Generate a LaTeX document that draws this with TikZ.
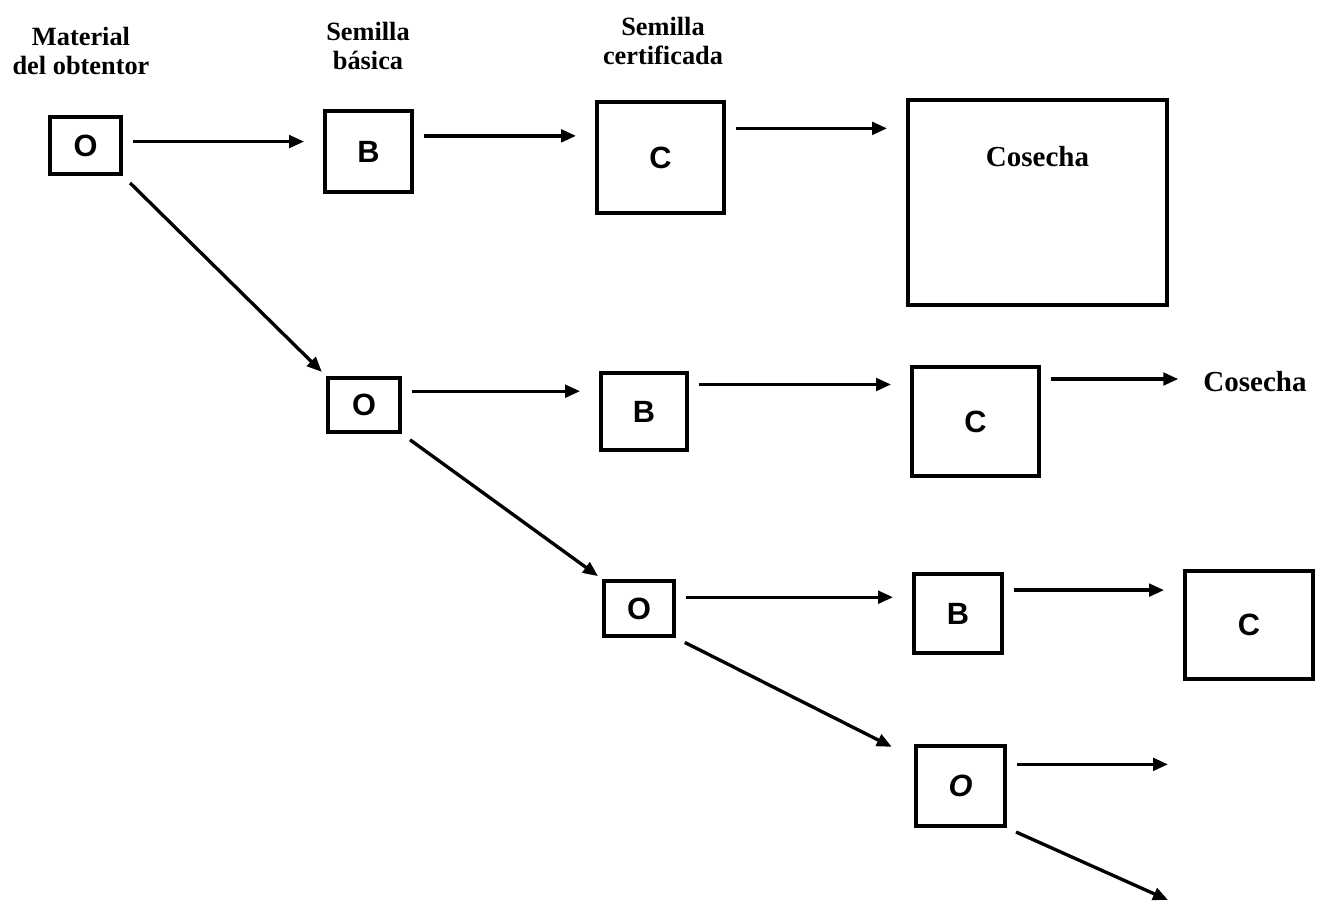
\documentclass[tikz,border=0pt]{standalone}
\usepackage{fontspec}
\setmainfont{Liberation Serif}
\setsansfont{Liberation Sans}
\usepackage{tikz}
\usetikzlibrary{arrows.meta,calc}

\begin{document}
\begin{tikzpicture}[x=0.02cm, y=-0.02cm,
    caja/.style={draw, line width=2.2pt, inner sep=0pt, font=\sffamily\bfseries\fontsize{17.5}{17.5}\selectfont},
    flecha/.style={line width=1.9pt, -{Triangle[length=0.3cm,width=0.25cm]}, shorten <=0.2cm},
    titulo/.style={align=center, font=\bfseries\fontsize{15}{17}\selectfont},
    cosecha/.style={font=\bfseries\fontsize{16.5}{16.5}\selectfont}]
    \useasboundingbox (0,0) rectangle (1327,903);

    % Headings
    \node [titulo] (tmat) at (81,51) {Material\\del obtentor};
    \node [titulo] (tbas) at (368,46) {Semilla\\básica};
    \node [titulo] (tcer) at (663,41) {Semilla\\certificada};

    % Boxes
    \node [caja, minimum width=1.42cm, minimum height=1.14cm] (o1) at (85.5,145.5) {O};
    \node [caja, minimum width=1.74cm, minimum height=1.62cm] (b1) at (368.5,151.5) {B};
    \node [caja, minimum width=2.54cm, minimum height=2.22cm] (c1) at (660.5,157.5) {C};
    \node [caja, minimum width=5.18cm, minimum height=4.10cm] (grande) at (1037.5,202.5) {};
    \node [cosecha] (cos1) at ($(grande.north)+(0,58)$) {Cosecha};

    \node [caja, minimum width=1.44cm, minimum height=1.08cm] (o2) at (364,405) {O};
    \node [caja, minimum width=1.72cm, minimum height=1.54cm] (b2) at (644,411.5) {B};
    \node [caja, minimum width=2.54cm, minimum height=2.18cm] (c2) at (975.5,421.5) {C};
    \node [cosecha] (cos2) at (1255,382) {Cosecha};

    \node [caja, minimum width=1.40cm, minimum height=1.10cm] (o3) at (639,608.5) {O};
    \node [caja, minimum width=1.76cm, minimum height=1.58cm] (b3) at (958,613.5) {B};
    \node [caja, minimum width=2.56cm, minimum height=2.16cm] (c3) at (1249,625) {C};

    \node [caja, minimum width=1.78cm, minimum height=1.60cm] (o4) at (960.5,786) {\itshape O};
    \coordinate (e1) at (1168,764);
    \coordinate (e2) at (1168,900);

    % Arrows to the right
    \foreach \a/\b/\t in {o1/b1/6, b1/c1/19, c1/grande/24, o2/b2/20, b2/c2/31,
                          c2/cos2/33, o3/b3/17, b3/c3/27}
        \draw [flecha, shorten >=0.38cm] (\a.\t) -- (\a.\t -| \b.west);
    \draw [flecha] (o4.25) -- (o4.25 -| e1);

    % Arrows downwards
    \draw [flecha, shorten >=0.12cm] (o1.south east) -- (o2.north west);
    \draw [flecha, shorten >=0.1cm] (o2.south east) -- (o3.north west);
    \draw [flecha, shorten >=0.5cm] (o3.south east) -- (o4.149);
    \draw [flecha] (o4.south east) -- (e2);
\end{tikzpicture}
\end{document}
